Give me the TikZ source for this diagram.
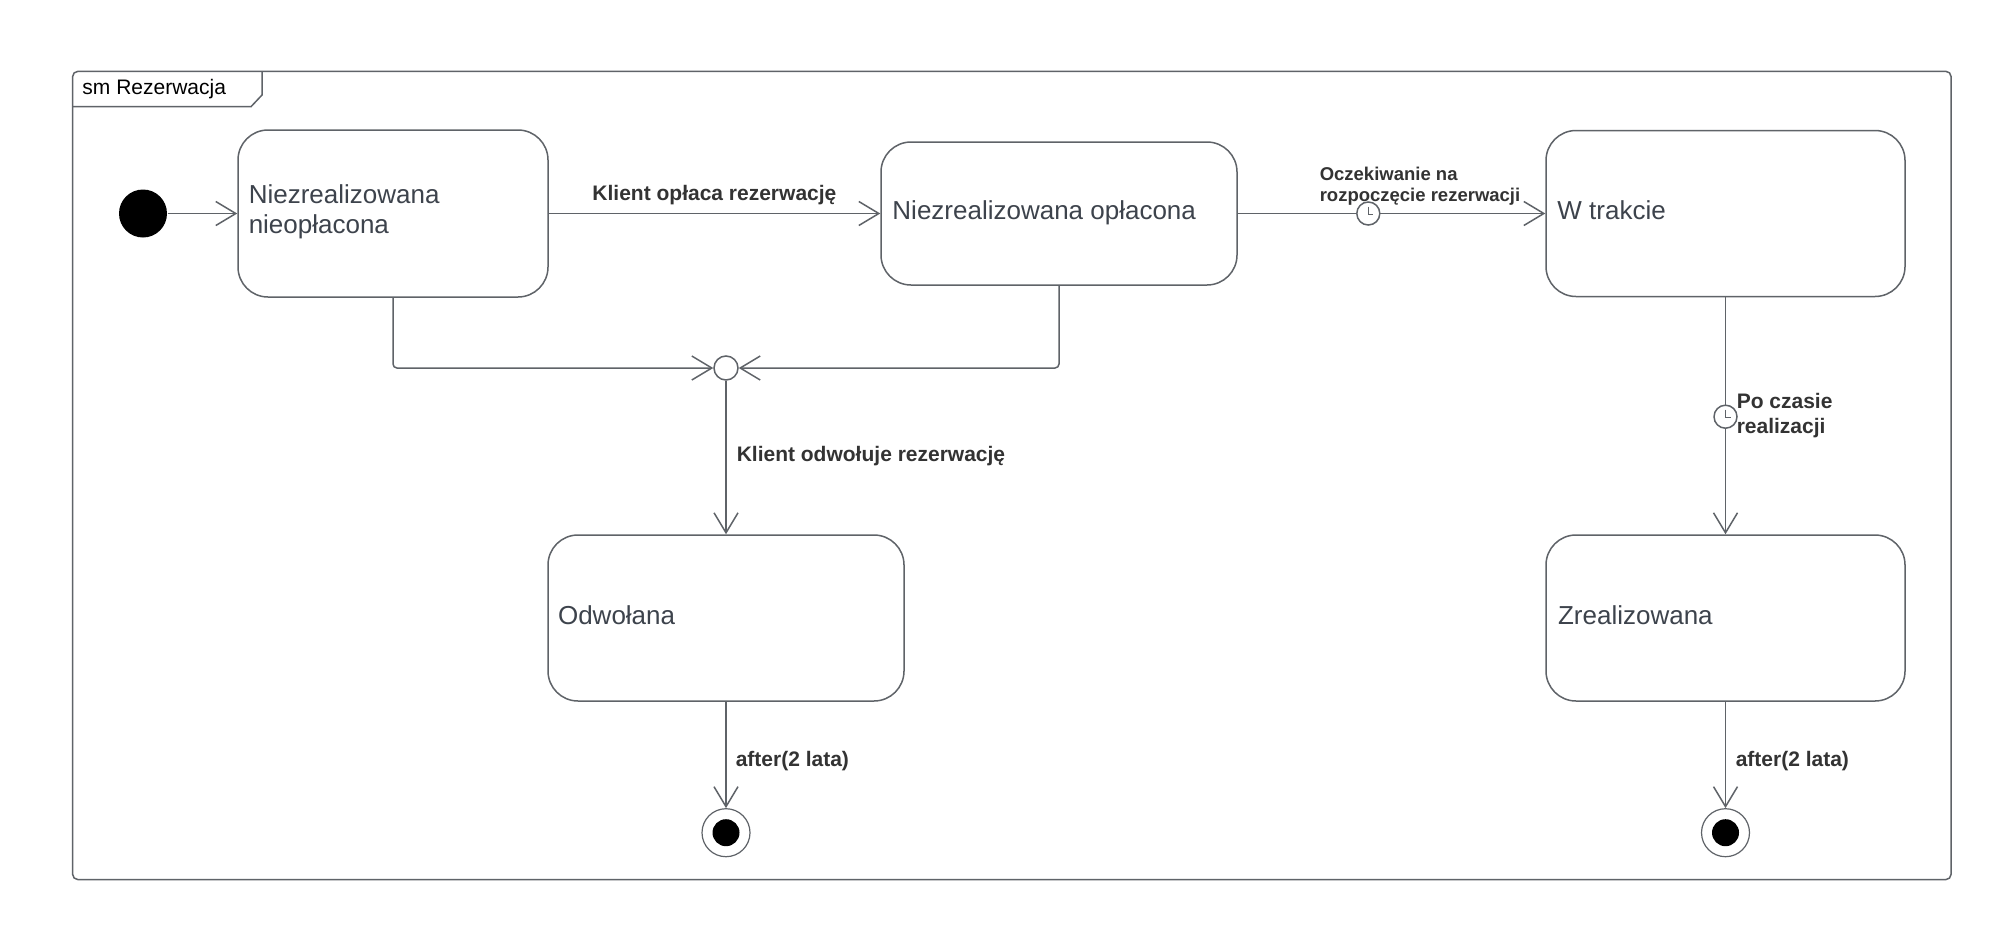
\documentclass[tikz,border=0pt]{standalone}
\usepackage{fontspec}
\setmainfont{Liberation Sans}
\usetikzlibrary{arrows.meta}
\definecolor{ln}{HTML}{5F6368}
\definecolor{stxt}{HTML}{3D434C}
\definecolor{ltxt}{HTML}{333333}
\begin{document}
\begin{tikzpicture}[x=1pt,y=-1pt,
  line width=1.5pt,
  statebox/.style={draw=ln, line width=1.5pt, rounded corners=30pt, inner sep=0pt},
  stname/.style={anchor=base west, inner sep=0pt, text=stxt, font=\fontsize{26}{30}\selectfont, align=left},
  lbl/.style={anchor=base west, inner sep=0pt, text=ltxt, font=\bfseries\fontsize{21}{25}\selectfont, align=left},
  conn/.style={draw=ln, line width=1.5pt, -{Straight Barb[length=20pt,width=24pt]}},
  clock/.style={circle, draw=ln, fill=white, line width=1.5pt, minimum size=23pt, inner sep=0pt},
  hands/.style={draw=ln, line width=1.2pt},
]
\useasboundingbox (0,0) rectangle (1999,929);
\fill[white] (0,0) rectangle (1999,929);

% frame
\draw[ln, rounded corners=5pt] (72.7,71.4) rectangle (1951,879.5);
\draw[ln] (72.7,106.7) -- (251,106.7) -- (262,95) -- (262,71.4);
\node[anchor=base west, inner sep=0pt, font=\fontsize{21}{25}\selectfont, text=black] (title) at (81.7,94) {sm Rezerwacja};

% states
\node[statebox, minimum width=310pt, minimum height=167pt] (s1) at (393,213.5) {};
\node[statebox, minimum width=356pt, minimum height=143pt] (s2) at (1059,213.5) {};
\node[statebox, minimum width=359pt, minimum height=166pt] (s3) at (1725.5,213.5) {};
\node[statebox, minimum width=356pt, minimum height=166pt] (s4) at (726,618) {};
\node[statebox, minimum width=359pt, minimum height=166pt] (s5) at (1725.5,618) {};

\node[stname] (t1) at (248,233.3) {Niezrealizowana\\nieopłacona};
\node[stname] (t2) at (891.7,219.3) {Niezrealizowana opłacona};
\node[stname] (t3) at (1556.7,219) {W trakcie};
\node[stname] (t4) at (557.3,624.3) {Odwołana};
\node[stname] (t5) at (1557.3,624.3) {Zrealizowana};

% pseudo states
\node[circle, fill=black, minimum size=48pt, inner sep=0pt] (init) at (143,213.5) {};
\node[circle, draw=ln, fill=white, line width=1.5pt, minimum size=24pt, inner sep=0pt] (jn) at (726,368) {};
\node[circle, draw=ln, fill=white, line width=1.2pt, minimum size=48pt, inner sep=0pt] (fin1) at (726,832.7) {};
\node[circle, draw=ln, fill=white, line width=1.2pt, minimum size=48pt, inner sep=0pt] (fin2) at (1725.5,832.7) {};
\fill[black] (fin1.center) circle (13.5);
\fill[black] (fin2.center) circle (13.5);

% connectors
\draw[conn] (init) -- (init -| s1.west);
\draw[conn] (s1.east) -- (s1.east -| s2.west);
\draw[conn] (s2.east) -- (s2.east -| s3.west);
\draw[conn, rounded corners=4pt] (s1.south) |- (jn.west);
\draw[conn, rounded corners=4pt] (s2.south) |- (jn.east);
\draw[conn] (jn.south) -- (s4.north);
\draw[conn] (s3.south) -- (s5.north);
\draw[conn] (s4.south) -- (fin1.north);
\draw[conn] (s5.south) -- (fin2.north);

% clocks (time events)
\node[clock] (clk1) at (1368.3,213.5) {};
\draw[hands] (clk1.center) ++(0,-7) -- ++(0,8) -- ++(5,0);
\node[clock] (clk2) at (1725.5,416.7) {};
\draw[hands] (clk2.center) ++(0,-7) -- ++(0,8) -- ++(5,0);

% labels
\node[lbl] (l1) at (591.7,200.7) {Klient opłaca rezerwację};
\node[lbl, font=\bfseries\fontsize{18.5}{21.7}\selectfont] (l2) at (1319,201.7) {Oczekiwanie na\\rozpoczęcie rezerwacji};
\node[lbl] (l3) at (1736,433) {Po czasie\\realizacji};
\node[lbl] (l4) at (736,461.7) {Klient odwołuje rezerwację};
\node[lbl] (l5) at (735,766) {after(2 lata)};
\node[lbl] (l6) at (1735,766) {after(2 lata)};
\end{tikzpicture}
\end{document}
